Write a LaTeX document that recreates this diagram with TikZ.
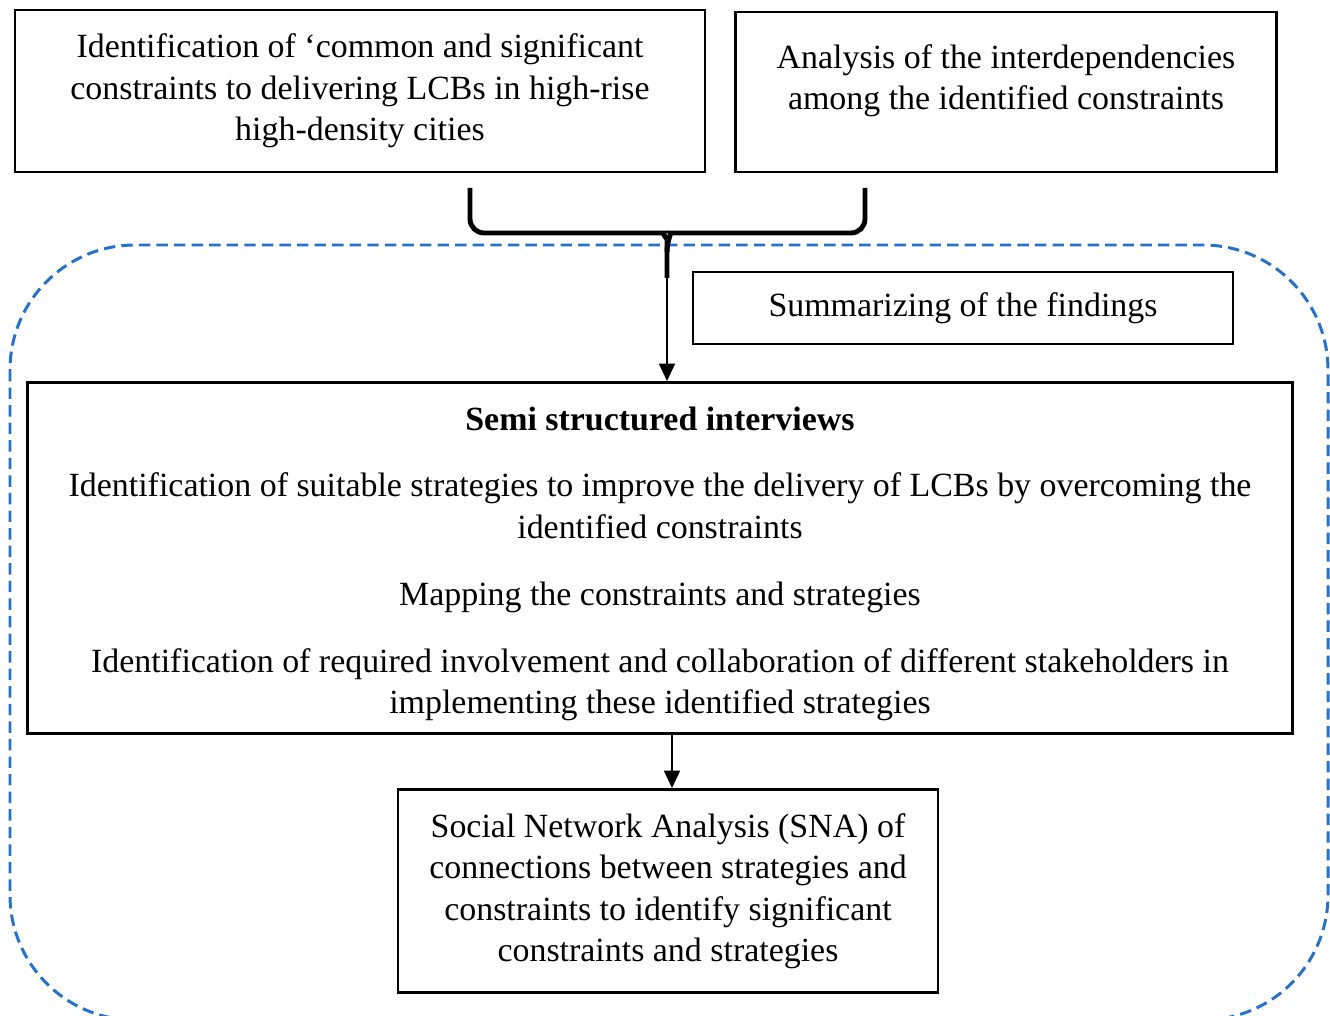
\documentclass[tikz,border=0pt]{standalone}
\usepackage{fontspec}
\setmainfont{Liberation Serif}
\usetikzlibrary{arrows.meta}
\definecolor{dashblue}{RGB}{38,114,200}
\tikzstyle{stage} = [rectangle, draw=black, line width=1.6pt, inner sep=0pt, align=center, font=\fontsize{19.3}{23.6}\selectfont]
\tikzstyle{arrow} = [line width=1.4pt, -{Triangle[width=9pt,length=10pt]}]
\tikzstyle{brace} = [line width=2.8pt, rounded corners=8pt]
\tikzstyle{region} = [draw=dashblue, line width=1.7pt, dash pattern=on 6.5pt off 3.5pt, rounded corners=2.5cm]

\begin{document}
\begin{tikzpicture}[x=0.02cm, y=-0.02cm]
        \useasboundingbox (0,0) rectangle (1330,1016);
        \clip (0,0) rectangle (1330,1016);
        % dashed region around the interview stage
        \draw [region] (10,245) rectangle (1328,1020);

        \node (ident) [stage, minimum width=13.8cm, minimum height=3.24cm] at (360,91) {Identification of ‘common and significant\\constraints to delivering LCBs in high-rise\\high-density cities};
        \node (interdep) [stage, minimum width=10.82cm, minimum height=3.2cm, text depth=17pt] at (1006,92) {Analysis of the interdependencies\\among the identified constraints};
        \node (summary) [stage, minimum width=10.8cm, minimum height=1.44cm] at (963,308) {Summarizing of the findings};
        \node (interviews) [stage, minimum width=25.3cm, minimum height=7.02cm] at (660,558) {\rule{0pt}{20pt}\textbf{Semi structured interviews}\\[14.5pt]Identification of suitable strategies to improve the delivery of LCBs by overcoming the\\identified constraints\\[14.5pt]Mapping the constraints and strategies\\[14.5pt]Identification of required involvement and collaboration of different stakeholders in\\implementing these identified strategies};
        \node (sna) [stage, minimum width=10.8cm, minimum height=4.06cm] at (668,891) {Social Network Analysis (SNA) of\\connections between strategies and\\constraints to identify significant\\constraints and strategies};

        % brace joining the two top stages
        \coordinate (tip) at (667,278);
        \draw [brace] (470,188) |- (650,233) .. controls (662,233) and (667,240) .. (667,252) -- (tip);
        \draw [brace] (865,188) |- (684,233) .. controls (672,233) and (667,240) .. (667,252);

        \draw [arrow] (tip) -- (tip |- interviews.north);
        \draw [arrow] (interviews.south -| 672,0) -- (sna.north -| 672,0);
      \end{tikzpicture}
\end{document}
